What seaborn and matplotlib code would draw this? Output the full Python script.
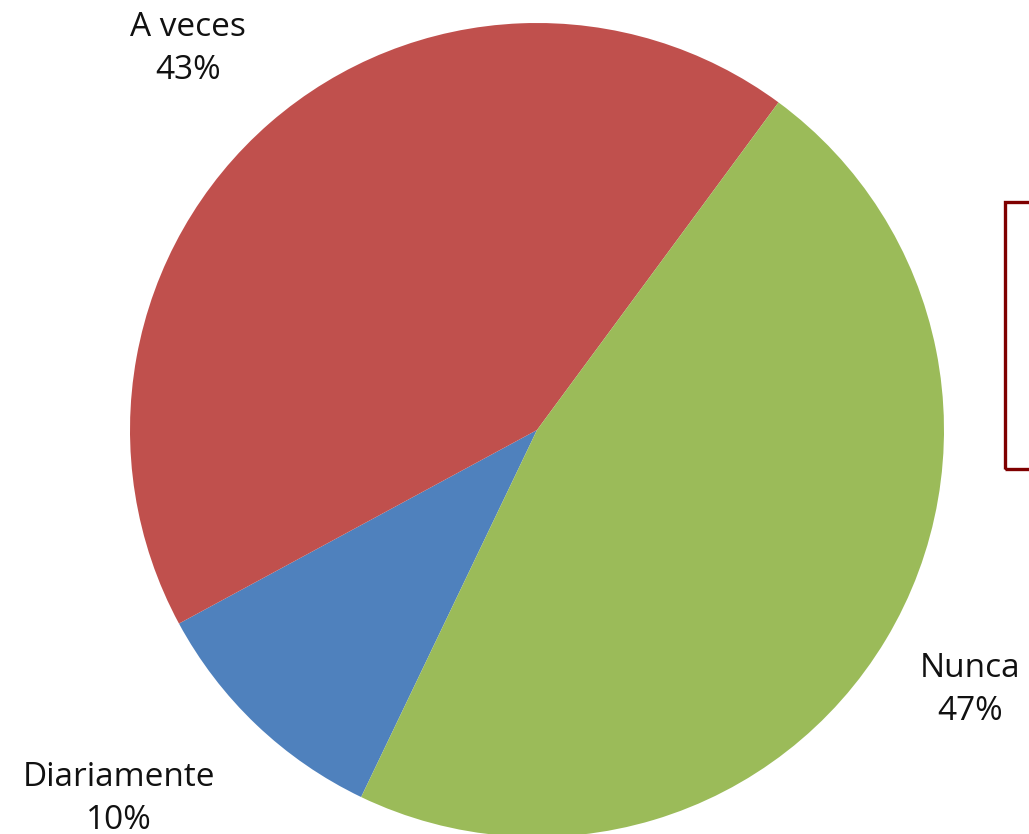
import numpy as np
import matplotlib.pyplot as plt
import seaborn as sns
from matplotlib.patches import Rectangle

# datos de la encuesta
categorias = ['Diariamente', 'A veces', 'Nunca']
porcentajes = [10, 43, 47]
colores = ['#4F81BD', '#C0504D', '#9BBB59']

sns.set_theme(style='white')
plt.rcParams['font.family'] = ['Open Sans', 'DejaVu Sans']

fig = plt.figure(figsize=(10.29, 8.34), dpi=100)
# ejes colocados para que el círculo quede centrado donde está en la referencia
ax = fig.add_axes([130 / 1029, -3 / 834, 814 / 1029, 814 / 834])

wedges, _ = ax.pie(porcentajes, colors=colores, startangle=-115.6,
                   counterclock=False, radius=1.0,
                   wedgeprops=dict(linewidth=0))
ax.set_aspect('equal')
ax.set_xlim(-1, 1)
ax.set_ylim(-1, 1)
ax.axis('off')

# etiquetas fuera del círculo, como en Excel
dist = [1.37, 1.27, 1.24]
desvio = [-5, 1.5, 0]
for w, cat, pct, d, off in zip(wedges, categorias, porcentajes, dist, desvio):
    ang = np.deg2rad((w.theta1 + w.theta2) / 2 + off)
    ax.text(d * np.cos(ang), d * np.sin(ang), f'{cat}\n{pct}%',
            ha='center', va='center', fontsize=24, color='#111111',
            linespacing=1.4, clip_on=False)

# recuadro cortado a la derecha
fig.patches.append(Rectangle((1005 / 1029, (834 - 469) / 834), 0.1, 267 / 834,
                             transform=fig.transFigure, fill=False,
                             edgecolor='#7F0000', linewidth=2.4))

fig.savefig('out.png', dpi=100)
